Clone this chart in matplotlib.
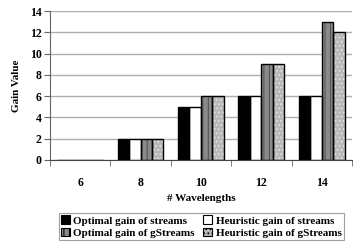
import matplotlib
matplotlib.use("Agg")
import matplotlib.pyplot as plt
import numpy as np

# data
wavelengths = [6, 8, 10, 12, 14]
opt_streams = [0, 2, 5, 6, 6]
heur_streams = [0, 2, 5, 6, 6]
opt_gstreams = [0, 2, 6, 9, 13]
heur_gstreams = [0, 2, 6, 9, 12]

series = [
    ("Optimal gain of streams", opt_streams, "black", None, "black"),
    ("Heuristic gain of streams", heur_streams, "white", None, "white"),
    ("Optimal gain of gStreams", opt_gstreams, "#8a8a8a", "|||", "#555555"),
    ("Heuristic gain of gStreams", heur_gstreams, "#b8b8b8", "....", "#e2e2e2"),
]

plt.rcParams["font.family"] = ["Liberation Serif", "DejaVu Serif"]
plt.rcParams["font.weight"] = "bold"
plt.rcParams["hatch.linewidth"] = 0.8

fig = plt.figure(figsize=(3.56, 2.45), dpi=100)
ax = fig.add_axes([0.140, 0.347, 0.849, 0.608])

x = np.arange(len(wavelengths))
w = 0.19
handles = []
for i, (name, vals, fc, hatch, hc) in enumerate(series):
    pos = x + (i - 1.5) * w
    # fill + hatch first, then the black outline on top
    ax.bar(pos, vals, w, color=fc, hatch=hatch, edgecolor=hc, linewidth=0, zorder=2)
    ax.bar(pos, vals, w, fill=False, edgecolor="black", linewidth=1.0, zorder=3)
    h = plt.Rectangle((0, 0), 1, 1, facecolor=fc, hatch=hatch, edgecolor="black", linewidth=0.8)
    handles.append(h)

ax.set_xlim(-0.5, len(wavelengths) - 0.5)
ax.set_ylim(0, 14)
ax.set_yticks(range(0, 15, 2))
ax.yaxis.grid(True, color="#b0b0b0", linewidth=1.0, zorder=0)
ax.set_axisbelow(True)

ax.set_xticks(x)
ax.set_xticklabels([str(v) for v in wavelengths])
ax.set_xticks(np.arange(-0.5, len(wavelengths)), minor=True)
ax.tick_params(axis="x", which="major", length=0, pad=12, labelsize=8.5)
ax.tick_params(axis="x", which="minor", length=4, direction="out", color="#666666")
ax.tick_params(axis="y", length=4, direction="out", labelsize=8.5, color="#666666", pad=2)

for s in ["top", "right"]:
    ax.spines[s].set_visible(False)
ax.spines["left"].set_color("#666666")
ax.spines["bottom"].set_color("#444444")

ax.set_ylabel("Gain Value", fontsize=8, fontweight="bold", labelpad=6)
ax.set_xlabel("# Wavelengths", fontsize=8, fontweight="bold", labelpad=4)

# legend is filled row by row in the reference, matplotlib fills by column
order = [0, 2, 1, 3]
leg = fig.legend([handles[k] for k in order], [series[k][0] for k in order],
                 ncol=2, loc="lower center",
                 bbox_to_anchor=(0.565, 0.02), fontsize=8, frameon=True,
                 fancybox=False, edgecolor="#888888", handlelength=0.8,
                 handleheight=0.8, handletextpad=0.3, columnspacing=0.8,
                 borderpad=0.2, labelspacing=0.2, borderaxespad=0)
leg.get_frame().set_linewidth(0.8)

fig.savefig("out.png", dpi=100)
